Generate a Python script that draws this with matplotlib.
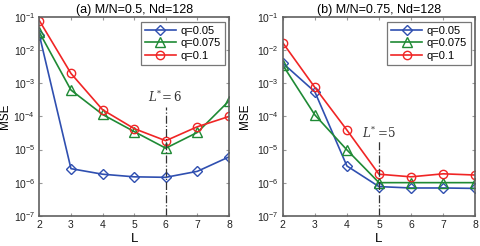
import matplotlib
matplotlib.use("Agg")
import matplotlib.pyplot as plt

plt.rcParams['font.family'] = ['Liberation Sans', 'DejaVu Sans']
plt.rcParams['mathtext.default'] = 'regular'

L = [2, 3, 4, 5, 6, 7, 8]
labels = ['q=0.05', 'q=0.075', 'q=0.1']

a_q005 = [2.9e-2, 2.65e-6, 1.8e-6, 1.5e-6, 1.45e-6, 2.2e-6, 6e-6]
a_q0075 = [3.5e-2, 6.3e-4, 1.15e-4, 3.5e-5, 1.1e-5, 3.3e-5, 2.95e-4]
a_q01 = [7.9e-2, 2.0e-3, 1.6e-4, 4.3e-5, 1.85e-5, 4.9e-5, 1.0e-4]

b_q005 = [4.1e-3, 5.6e-4, 3.2e-6, 7.6e-7, 6.9e-7, 6.9e-7, 6.7e-7]
b_q0075 = [3.6e-3, 1.12e-4, 9.8e-6, 1.0e-6, 1.0e-6, 1.0e-6, 1.0e-6]
b_q01 = [1.7e-2, 7.6e-4, 3.9e-5, 1.8e-6, 1.5e-6, 1.85e-6, 1.7e-6]

titles = ['(a) M/N=0.5, Nd=128', '(b) M/N=0.75, Nd=128']
Lstar = [6, 5]
Lstar_text = [r'$\mathit{L}^{*}\!=6$', r'$\mathit{L}^{*}\,$=5']

colors = ['#2f4fb0', '#1f8a35', '#f02525']
markers = ['D', '^', 'o']
msizes = [4.8, 7, 6]

fig = plt.figure(figsize=(4.8, 2.46), dpi=100)
axA = fig.add_axes([0.082, 0.123, 0.395, 0.807])
axB = fig.add_axes([0.589, 0.123, 0.401, 0.807])

data = [[a_q005, a_q0075, a_q01], [b_q005, b_q0075, b_q01]]
line_top = [1.95e-4, 1.9e-5]
text_y = [3.9e-4, 3.2e-5]
ylabel_x = [-0.152, -0.165]

for i, ax in enumerate([axA, axB]):
    for s, ys in enumerate(data[i]):
        ax.plot(L, ys, color=colors[s], marker=markers[s], markersize=msizes[s],
                markerfacecolor='none', markeredgewidth=1.0, linewidth=1.2,
                label=labels[s])
    ax.set_yscale('log')
    ax.set_xlim(2, 8)
    ax.set_ylim(1e-7, 1e-1)
    ax.set_xticks(L)
    ax.set_yticks([1e-7, 1e-6, 1e-5, 1e-4, 1e-3, 1e-2, 1e-1])
    ax.minorticks_off()
    ax.tick_params(direction='in', length=2.5, labelsize=7.5, colors='#999999',
                   labelcolor='#222222', top=True, right=True, pad=3)
    for sp in ax.spines.values():
        sp.set_color('#606060')
        sp.set_linewidth(1.2)
    ax.set_title(titles[i], fontsize=9, pad=3)
    ax.set_ylabel('MSE', fontsize=8.5)
    ax.yaxis.set_label_coords(ylabel_x[i], 0.5)
    ax.set_xlabel('L', fontsize=9.5, labelpad=2)
    ax.plot([Lstar[i], Lstar[i]], [1e-7, line_top[i]], color='#333333',
            linestyle='-.', linewidth=0.9)
    ax.text(Lstar[i], text_y[i], Lstar_text[i], ha='center', va='center',
            fontsize=8.5, family='DejaVu Serif', math_fontfamily='dejavuserif',
            color='#333333')
    leg = ax.legend(loc='upper right', fontsize=8, frameon=True, fancybox=False,
                    edgecolor='#555555', handlelength=2.8, borderpad=0.35,
                    labelspacing=0.25, handletextpad=0.4,
                    borderaxespad=0.4)
    leg.get_frame().set_linewidth(0.9)

fig.savefig('out.png', dpi=100)
